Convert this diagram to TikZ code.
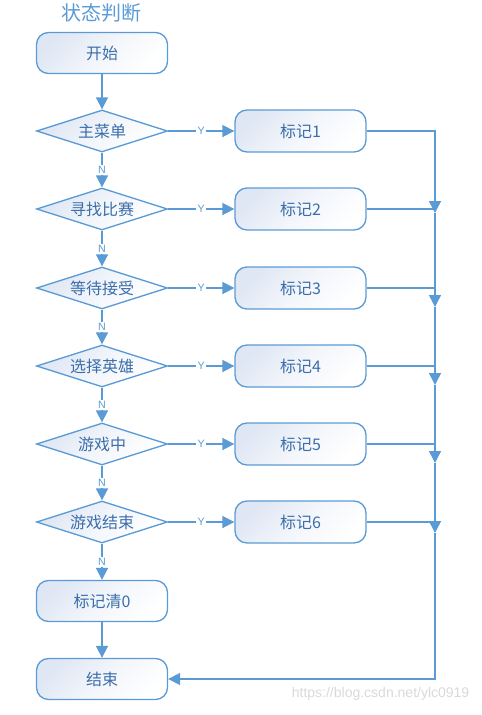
\documentclass[tikz,border=0pt]{standalone}
\usepackage{fontspec}
\setmainfont{Liberation Sans}
\newfontfamily\cjk{Noto Sans CJK SC}
\usetikzlibrary{shapes.geometric,arrows.meta}
\definecolor{lineblue}{HTML}{5B9BD5}
\definecolor{textblue}{HTML}{3B6EAA}
\definecolor{shadeblue}{HTML}{DFE7F4}

\begin{document}
\begin{tikzpicture}[x=0.75pt,y=-0.75pt]
  \useasboundingbox (0,0) rectangle (482,715);
  \tikzset{flowbox/.style={rectangle,rounded corners=9pt,draw=lineblue,line width=1pt,
      shading=axis,top color=shadeblue,bottom color=white,middle color=white!60!shadeblue,shading angle=45,
      minimum width=98.25pt,minimum height=30.75pt,inner sep=0pt,
      text=textblue,font=\cjk\fontsize{12}{14}\selectfont},
    flowtest/.style={flowbox,diamond,rounded corners=0pt,shape aspect=3.2,minimum height=31.5pt},
    flowline/.style={draw=lineblue,line width=1.3pt,-{Triangle[length=9pt,width=9pt]}},
    busline/.style={draw=lineblue,line width=1.1pt},
    yn/.style={fill=white,inner sep=1pt,text=lineblue,font=\fontsize{8}{9}\selectfont}}

 % title
  \node[text=lineblue,font=\cjk\fontsize{15}{17}\selectfont] (title) at (101,13) {状态判断};

 % left column
  \node[flowbox] (start) at (102,53) {开始};
  \node[flowtest] (d1) at (102,131) {主菜单};
  \node[flowtest] (d2) at (102,209) {寻找比赛};
  \node[flowtest] (d3) at (102,288) {等待接受};
  \node[flowtest] (d4) at (102,366) {选择英雄};
  \node[flowtest] (d5) at (102,444) {游戏中};
  \node[flowtest] (d6) at (102,522) {游戏结束};
  \node[flowbox] (clear) at (102,601) {标记清0};
  \node[flowbox] (end) at (102,679) {结束};

 % marks
  \foreach \i/\y in {1/131,2/209,3/288,4/366,5/444,6/522}
    \node[flowbox,minimum height=31.5pt] (m\i) at (300.5,\y) {标记\i};

 % bus
  \coordinate (b1) at (435,213);
  \coordinate (b2) at (435,307);
  \coordinate (b3) at (435,385);
  \coordinate (b4) at (435,463);
  \coordinate (b5) at (435,533);

 % connectors
  \draw[flowline] (start) -- (d1);
  \foreach \i/\j in {1/2,2/3,3/4,4/5,5/6}
    \draw[flowline] (d\i) -- node[yn] {N} (d\j);
  \draw[flowline] (d6) -- node[yn] {N} (clear);
  \draw[flowline] (clear) -- (end);
  \foreach \i in {1,...,6}
    \draw[flowline] (d\i) -- node[yn] {Y} (m\i);

  \foreach \i in {2,...,6}
    \draw[busline] (m\i.east) -- (m\i.east -| b1);
  \draw[flowline,line width=1.1pt] (m1.east) -| (b1);
  \draw[flowline,line width=1.1pt] (b1) -- (b2);
  \draw[flowline,line width=1.1pt] (b2) -- (b3);
  \draw[flowline,line width=1.1pt] (b3) -- (b4);
  \draw[flowline,line width=1.1pt] (b4) -- (b5);
  \draw[flowline,line width=1.1pt] (b5) |- (end);

 % watermark
  \node[anchor=east,text=black!15,font=\fontsize{10.5}{12}\selectfont] (mark) at (474,694) {https://blog.csdn.net/ylc0919};
\end{tikzpicture}
\end{document}
